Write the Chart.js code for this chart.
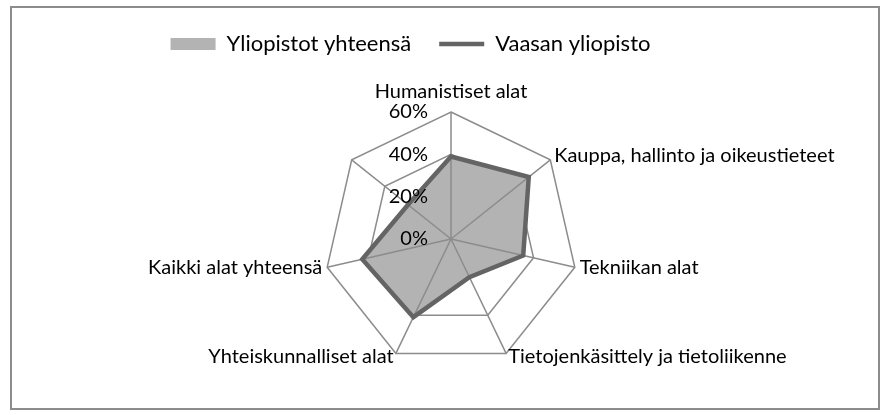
<!DOCTYPE html>
<html lang="fi">
<head>
    <meta charset="UTF-8">
    <title>Yliopistot yhteensä / Vaasan yliopisto</title>
    <style>
        body, html {
            margin: 0;
            padding: 0;
            background: #fff;
        }
        #chart {
            width: 889px;
            height: 415px;
            position: relative;
        }
    </style>
</head>
<body>

<div id="chart">
    <canvas id="myChart"></canvas>
</div>

<script src="https://cdn.jsdelivr.net/npm/chart.js"></script>
<script type="text/javascript">
    // alat myötäpäivään ylhäältä alkaen (viimeinen akseli ilman nimeä)
    var categories = ['Humanistiset alat', 'Kauppa, hallinto ja oikeustieteet', 'Tekniikan alat',
        'Tietojenkäsittely ja tietoliikenne', 'Yhteiskunnalliset alat', 'Kaikki alat yhteensä', ''];
    var yliopistotYhteensa = [39, 47, 35, 20, 41, 43, 26];
    var vaasanYliopisto = [39, 47, 35, 20, 41, 43, 26];
    var tickLabels = ['0%', '20%', '40%', '60%'];

    var FONT = 'Lato, sans-serif';
    var GRID = '#8c8c8c';

    Chart.defaults.font.family = FONT;

    var radarExtras = {
        id: 'radarExtras',
        beforeDraw: function(chart) {
            var ctx = chart.ctx;
            ctx.save();
            ctx.fillStyle = '#fff';
            ctx.fillRect(0, 0, chart.width, chart.height);
            ctx.strokeStyle = GRID;
            ctx.lineWidth = 2;
            ctx.strokeRect(11, 7, 868, 402); // kehys
            ctx.restore();
        },
        afterDatasetDraw: function(chart, args) {
            if (args.index !== 0) return;
            // akselit täytön päälle mutta viivan alle
            var r = chart.scales.r;
            var ctx = chart.ctx;
            ctx.save();
            ctx.strokeStyle = GRID;
            ctx.lineWidth = 1.5;
            ctx.beginPath();
            for (var i = 0; i < categories.length; i++) {
                var p = r.getPointPosition(i, r.drawingArea);
                ctx.moveTo(r.xCenter, r.yCenter);
                ctx.lineTo(p.x, p.y);
            }
            ctx.stroke();
            ctx.restore();
        },
        afterDatasetsDraw: function(chart) {
            var r = chart.scales.r;
            var ctx = chart.ctx;
            ctx.save();
            ctx.fillStyle = '#000';
            ctx.font = '20px ' + FONT;

            // asteikon luvut pystyakselin vasemmalle puolelle
            ctx.textAlign = 'right';
            ctx.textBaseline = 'middle';
            r.ticks.forEach(function(t) {
                ctx.fillText(t.label, r.xCenter - 23, r.yCenter - r.getDistanceFromCenterForValue(t.value));
            });

            // alojen nimet
            categories.forEach(function(lbl, i) {
                if (!lbl) return;
                var p = r.getPointPosition(i, r.drawingArea + 5);
                if (i === 0) {
                    ctx.textAlign = 'center';
                    ctx.textBaseline = 'alphabetic';
                    ctx.fillText(lbl, p.x, p.y - 9);
                    return;
                }
                ctx.textBaseline = 'middle';
                ctx.textAlign = p.x > r.xCenter ? 'left' : 'right';
                ctx.fillText(lbl, p.x, p.y - 1);
            });
            ctx.restore();
        }
    };

    var ctx = document.getElementById('myChart').getContext('2d');
    window.myChart = new Chart(ctx, {
        type: 'radar',
        data: {
            labels: categories,
            datasets: [{
                label: 'Yliopistot yhteensä',
                data: yliopistotYhteensa,
                fill: 'origin',
                backgroundColor: '#b3b3b3',
                borderWidth: 0,
                pointRadius: 0,
                pointStyle: 'rect',
                pointBackgroundColor: '#b3b3b3',
                pointBorderWidth: 0,
                order: 2
            }, {
                label: 'Vaasan yliopisto',
                data: vaasanYliopisto,
                fill: false,
                borderColor: '#646464',
                borderWidth: 4.5,
                borderJoinStyle: 'miter',
                borderCapStyle: 'round',
                pointRadius: 0,
                pointStyle: 'line',
                pointBackgroundColor: '#646464',
                pointBorderColor: '#646464',
                pointBorderWidth: 4.5,
                order: 1
            }]
        },
        options: {
            responsive: true,
            maintainAspectRatio: false,
            animation: false,
            layout: {
                padding: { top: 5, right: 68 }
            },
            scales: {
                r: {
                    min: 0,
                    max: 60,
                    ticks: {
                        stepSize: 20,
                        display: false,
                        callback: function(v, i) { return tickLabels[i]; }
                    },
                    grid: { color: GRID, lineWidth: 1.5 },
                    angleLines: { display: false },
                    pointLabels: { display: false },
                    afterFit: function(scale) {
                        scale.xCenter = 451;
                        scale.yCenter = 239;
                        scale.drawingArea = 127;
                    }
                }
            },
            plugins: {
                tooltip: { enabled: false },
                legend: {
                    position: 'top',
                    labels: {
                        usePointStyle: true,
                        pointStyleWidth: 45,
                        boxHeight: 12,
                        padding: 28,
                        color: '#000',
                        font: { family: FONT, size: 22 },
                        sort: function(a, b) { return a.datasetIndex - b.datasetIndex; }
                    }
                }
            }
        },
        plugins: [radarExtras]
    });
</script>
</body>
</html>
